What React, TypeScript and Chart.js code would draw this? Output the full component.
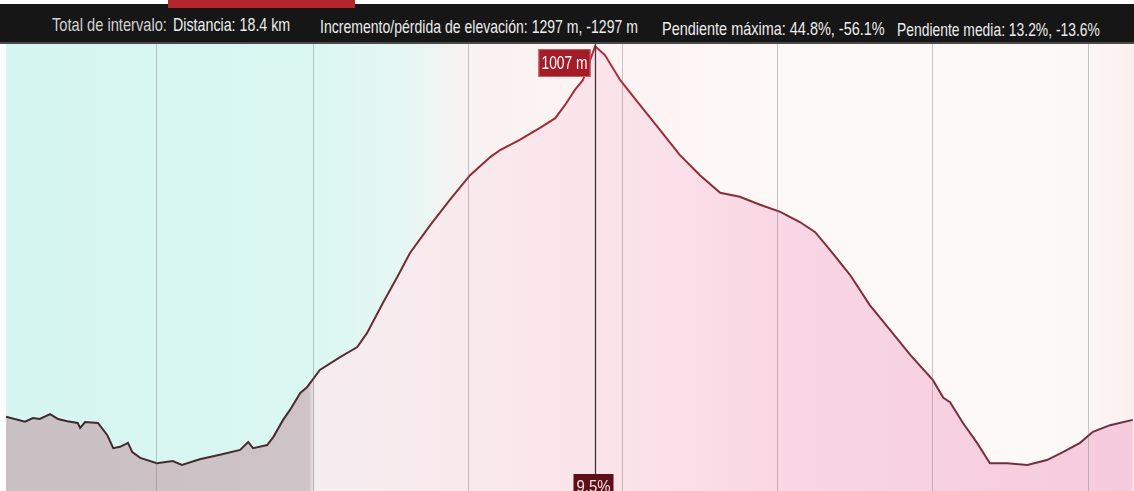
import React, { useEffect, useRef } from "react";
import { Chart, registerables } from "chart.js";

Chart.register(...registerables);

// ---- data ----
const DISTANCE_KM = [
  0.0, 0.31, 0.44, 0.55, 0.72, 0.85, 1.0, 1.17, 1.21, 1.29, 1.5, 1.65, 1.75, 1.86, 1.99, 2.06, 2.19,
  2.46, 2.72, 2.87, 3.16, 3.49, 3.82, 3.95, 4.03, 4.26, 4.36, 4.52, 4.63, 4.8, 4.91, 5.12, 5.45,
  5.73, 5.89, 6.15, 6.38, 6.59, 6.92, 7.24, 7.57, 7.9, 8.06, 8.38, 8.71, 8.96, 9.12, 9.28, 9.41,
  9.53, 9.61, 9.77, 10.02, 10.34, 10.67, 10.99, 11.32, 11.65, 11.97, 12.3, 12.63, 12.95, 13.2,
  13.44, 13.77, 14.09, 14.42, 14.75, 15.12, 15.29, 15.4, 15.61, 15.84, 16.05, 16.33, 16.66,
  16.98, 17.24, 17.52, 17.73, 18.01, 18.38,
];
const ELEVATION_M = [
  168, 157, 165, 163, 174, 163, 158, 154, 143, 156, 154, 127, 97, 100, 109, 88, 75,
  63, 68, 59, 72, 82, 93, 111, 97, 104, 122, 161, 183, 222, 235, 274, 303,
  326, 358, 426, 484, 539, 602, 659, 715, 756, 772, 795, 822, 844, 874, 908, 930,
  976, 1007, 987, 930, 874, 817, 761, 715, 675, 666, 648, 632, 609, 586,
  546, 489, 421, 365, 308, 251, 211, 201, 154, 109, 63, 63, 59,
  70, 88, 109, 134, 149, 161,
];
const GRID_KM = [2.46, 5.01, 7.54, 10.05, 12.59, 15.12, 17.65];
const TOTAL_KM = 18.4;
const CURSOR_KM = 9.61;
const CURSOR_ELEVATION_LABEL = "1007 m";
const CURSOR_SLOPE_LABEL = "9.5%";
const HEADER_TEXTS = [
  "Total de intervalo:",
  "Distancia: 18.4 km",
  "Incremento/pérdida de elevación: 1297 m, -1297 m",
  "Pendiente máxima: 44.8%, -56.1%",
  "Pendiente media: 13.2%, -13.6%",
];

// ---- layout / style ----
const HEADER_LAYOUT = [
  { left: 52, top: 15, width: 115, color: "#d2d2d2" },
  { left: 173, top: 15, width: 117, color: "#ececec" },
  { left: 320, top: 17, width: 318, color: "#ececec" },
  { left: 662, top: 19, width: 223, color: "#ececec" },
  { left: 897, top: 20, width: 203, color: "#ececec" },
];

const W = 1134;
const H = 491;
const BAR_H = 44;

function hGrad(c: CanvasRenderingContext2D, x0: number, x1: number, stops: [number, string][]) {
  const g = c.createLinearGradient(x0, 0, x1, 0);
  stops.forEach(([o, col]) => g.addColorStop(o, col));
  return g;
}

const backgroundPlugin = {
  id: "profileBackground",
  beforeDraw(chart: any) {
    const { ctx, chartArea } = chart;
    ctx.save();
    ctx.fillStyle = "#ffffff";
    ctx.fillRect(0, 0, chart.width, chart.height);
    ctx.fillStyle = hGrad(ctx, 0, chart.width, [
      [0, "#d6f6f1"],
      [0.27, "#daf7f2"],
      [0.36, "#e6f7f3"],
      [0.41, "#f9f2f2"],
      [0.52, "#fdf3f3"],
      [0.7, "#fdf9f6"],
      [0.95, "#fcf8f6"],
      [1, "#fbf0f0"],
    ]);
    ctx.fillRect(chartArea.left, chartArea.top, chartArea.right - chartArea.left, chartArea.bottom - chartArea.top);
    ctx.restore();
  },
};

const cursorPlugin = {
  id: "profileCursor",
  afterDraw(chart: any) {
    const { ctx, chartArea, scales } = chart;
    const x = Math.round(scales.x.getPixelForValue(CURSOR_KM)) + 0.5;
    ctx.save();
    ctx.strokeStyle = "#3a3a3a";
    ctx.lineWidth = 1.3;
    ctx.beginPath();
    ctx.moveTo(x, chartArea.top);
    ctx.lineTo(x, chartArea.bottom);
    ctx.stroke();

    // elevation label box (left of the cursor, near the top)
    const bw = 52;
    const bh = 28;
    const bx = x - 57;
    const by = chartArea.top + 5;
    ctx.fillStyle = "#a31d29";
    ctx.fillRect(bx, by, bw, bh);
    ctx.strokeStyle = "#c95a62";
    ctx.lineWidth = 1;
    ctx.strokeRect(bx + 0.5, by + 0.5, bw - 1, bh - 1);
    ctx.fillStyle = "#ffffff";
    ctx.font = "18px 'Liberation Sans', Arial, sans-serif";
    ctx.textBaseline = "middle";
    ctx.textAlign = "center";
    ctx.fillText(CURSOR_ELEVATION_LABEL, bx + bw / 2, by + bh / 2 + 1, 46);

    // slope label box (bottom, centered on cursor)
    const sw = 40;
    const sx = x - 22;
    const sy = chartArea.bottom - 17;
    ctx.fillStyle = "#5e0f17";
    ctx.fillRect(sx, sy, sw, 30);
    ctx.fillStyle = "#f4e6e8";
    ctx.font = "16px 'Liberation Sans', Arial, sans-serif";
    ctx.textBaseline = "top";
    ctx.fillText(CURSOR_SLOPE_LABEL, sx + sw / 2, sy + 6, 34);
    ctx.restore();
  },
};

export default function App() {
  const canvasRef = useRef<HTMLCanvasElement | null>(null);
  const spanRefs = useRef<(HTMLSpanElement | null)[]>([]);

  useEffect(() => {
    spanRefs.current.forEach((s, i) => {
      if (!s) return;
      const w = s.scrollWidth;
      if (w > 0) s.style.transform = `scaleX(${HEADER_LAYOUT[i].width / w})`;
    });
  }, []);

  useEffect(() => {
    const canvas = canvasRef.current;
    if (!canvas) return;
    const points = DISTANCE_KM.map((d, i) => ({ x: d, y: ELEVATION_M[i] }));
    const chart = new Chart(canvas, {
      type: "line",
      data: {
        datasets: [
          {
            data: points,
            fill: "origin",
            pointRadius: 0,
            borderWidth: 2,
            tension: 0,
            borderColor: (ctx: any) => {
              const c = ctx.chart.ctx;
              return hGrad(c, 0, ctx.chart.width, [
                [0, "#3a2a2e"],
                [0.25, "#4a2a30"],
                [0.42, "#8c2a36"],
                [0.52, "#b02c3a"],
                [0.62, "#8a2c38"],
                [1, "#6a3040"],
              ]);
            },
            backgroundColor: (ctx: any) => {
              const c = ctx.chart.ctx;
              return hGrad(c, 0, ctx.chart.width, [
                [0, "#c9c0c4"],
                [0.272, "#cec4c8"],
                [0.278, "#f6edf0"],
                [0.41, "#f9e9ed"],
                [0.55, "#fbe3ea"],
                [0.7, "#f9d6e3"],
                [1, "#f5cadd"],
              ]);
            },
          },
        ],
      },
      options: {
        animation: false,
        responsive: false,
        maintainAspectRatio: false,
        events: [],
        layout: { padding: { left: 6, right: 0, top: 0, bottom: 0 } },
        plugins: { legend: { display: false }, tooltip: { enabled: false }, title: { display: false } },
        scales: {
          x: {
            type: "linear",
            min: 0,
            max: TOTAL_KM,
            afterBuildTicks: (scale: any) => {
              scale.ticks = GRID_KM.map((v) => ({ value: v }));
            },
            ticks: { display: false },
            grid: { color: "rgba(110,110,110,0.38)", lineWidth: 1, drawTicks: false, z: 1 },
            border: { display: false },
          },
          y: { type: "linear", min: 0, max: 1012, display: false },
        },
      },
      plugins: [backgroundPlugin, cursorPlugin],
    } as any);
    return () => chart.destroy();
  }, []);

  return (
    <div style={{ position: "fixed", left: 0, top: 0, width: W, height: H, background: "#fff", overflow: "hidden" }}>
      <div style={{ position: "absolute", left: 0, top: 4, width: W, height: BAR_H - 4, background: "#161616" }} />
      <div style={{ position: "absolute", left: 0, top: BAR_H - 2, width: W, height: 2, background: "#4a4a4a" }} />
      <div style={{ position: "absolute", left: 168, top: 0, width: 187, height: 8, background: "#b3262e" }} />
      {HEADER_TEXTS.map((t, i) => (
        <span
          key={i}
          ref={(el) => {
            spanRefs.current[i] = el;
          }}
          style={{
            position: "absolute",
            left: HEADER_LAYOUT[i].left,
            top: HEADER_LAYOUT[i].top,
            color: HEADER_LAYOUT[i].color,
            fontFamily: "'Liberation Sans', Arial, sans-serif",
            fontSize: 19,
            lineHeight: "19px",
            whiteSpace: "nowrap",
            transformOrigin: "0 0",
          }}
        >
          {t}
        </span>
      ))}
      <canvas
        ref={canvasRef}
        width={W}
        height={H - BAR_H}
        style={{ position: "absolute", left: 0, top: BAR_H, width: W, height: H - BAR_H }}
      />
    </div>
  );
}
